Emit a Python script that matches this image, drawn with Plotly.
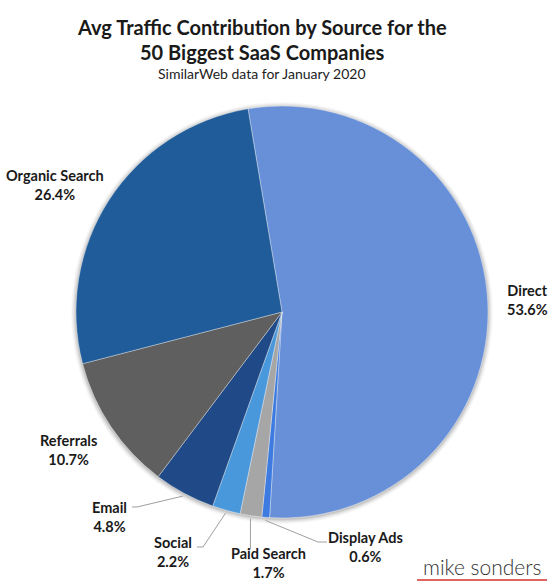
import math
import plotly.graph_objects as go

# ---- data ----
sources = ["Direct", "Display Ads", "Paid Search", "Social", "Email", "Referrals", "Organic Search"]
shares = [53.6, 0.6, 1.7, 2.2, 4.8, 10.7, 26.4]
colors = ["#6890d8", "#3d7be0", "#a6a6a6", "#4a98dc", "#1f4a87", "#5f5f5f", "#1f5c99"]
value_labels = ["53.6%", "0.6%", "1.7%", "2.2%", "4.8%", "10.7%", "26.4%"]

title_lines = ["Avg Traffic Contribution by Source for the", "50 Biggest SaaS Companies"]
subtitle = "SimilarWeb data for January 2020"
brand = "mike sonders"

W, H = 555, 587
CX, CY, R = 282, 312, 206
ROT = -9.5


def px(x):
    return x / W


def py(y):
    return 1 - y / H


fig = go.Figure()
fig.add_trace(go.Pie(
    labels=sources,
    values=shares,
    sort=False,
    direction="clockwise",
    rotation=ROT,
    marker=dict(colors=colors, line=dict(color="rgba(255,255,255,0.6)", width=0.6)),
    textinfo="none",
    hoverinfo="label+percent",
    showlegend=False,
    domain=dict(x=[px(CX - R), px(CX + R)], y=[py(CY + R), py(CY - R)]),
))

FONT = "Lato"
annotations = []
for i, line in enumerate(title_lines):
    annotations.append(dict(x=px(262), y=py(27 + 25 * i), xref="paper", yref="paper",
                            text="<b>" + line + "</b>", showarrow=False,
                            font=dict(family=FONT, size=20, color="#1a1a1a"),
                            xanchor="center", yanchor="middle"))
annotations.append(dict(x=px(262), y=py(74), xref="paper", yref="paper", text=subtitle,
                        showarrow=False, font=dict(family=FONT, size=14, color="#222"),
                        xanchor="center", yanchor="middle"))

# label centres (pixels)
label_pos = {
    "Direct": (527, 300),
    "Display Ads": (365, 547),
    "Paid Search": (268, 563),
    "Social": (173, 552),
    "Email": (109, 517),
    "Referrals": (68, 450),
    "Organic Search": (55, 185),
}
for s, v in zip(sources, value_labels):
    x, y = label_pos[s]
    annotations.append(dict(x=px(x), y=py(y), xref="paper", yref="paper",
                            text="<b>" + s + "</b><br><b>" + v + "</b>", showarrow=False,
                            font=dict(family=FONT, size=14.5, color="#1a1a1a"),
                            xanchor="center", yanchor="middle", align="center"))

annotations.append(dict(x=px(482), y=py(566), xref="paper", yref="paper", text=brand,
                        showarrow=False, font=dict(family=FONT, size=21, color="#333", weight=300),
                        xanchor="center", yanchor="middle"))

# leader lines from slice mid-angle to label elbows
total = sum(shares)
cum = 0.0
mid_angle = {}
for s, v in zip(sources, shares):
    mid_angle[s] = ROT + (cum + v / 2) / total * 360
    cum += v

elbows = {
    "Email": [(137, 507), (132, 507)],
    "Social": [(203, 547), (197, 547)],
    "Paid Search": [None],
    "Display Ads": [(318, 542), (327, 542)],
}
shapes = []
# soft shadow around the pie
for k, op in [(5, 0.025), (4, 0.035), (3, 0.045), (2, 0.06), (1, 0.08)]:
    shapes.append(dict(type="circle", xref="paper", yref="paper", layer="below",
                       x0=px(CX - R - k), x1=px(CX + R + k),
                       y0=py(CY + R + k + 1), y1=py(CY - R - k + 1),
                       fillcolor="rgba(0,0,0,%s)" % op, line=dict(width=0)))

for s, pts in elbows.items():
    a = math.radians(mid_angle[s])
    ex = CX + R * 1.015 * math.sin(a)
    ey = CY - R * 1.015 * math.cos(a)
    if pts[0] is None:
        pts = [(ex, 549)]
    path = [(ex, ey)] + pts
    for (x0, y0), (x1, y1) in zip(path[:-1], path[1:]):
        shapes.append(dict(type="line", xref="paper", yref="paper",
                           x0=px(x0), y0=py(y0), x1=px(x1), y1=py(y1),
                           line=dict(color="#a0a0a0", width=1)))

shapes.append(dict(type="line", xref="paper", yref="paper", x0=px(417), x1=px(547),
                   y0=py(580), y1=py(580), line=dict(color="#d9302c", width=1.5)))

fig.update_layout(width=W, height=H, margin=dict(l=0, r=0, t=0, b=0),
                  paper_bgcolor="white", plot_bgcolor="white",
                  annotations=annotations, shapes=shapes)
fig.write_html("out.html", config={"displayModeBar": False},
               post_script="document.body.style.margin='0';document.body.style.overflow='hidden';")
